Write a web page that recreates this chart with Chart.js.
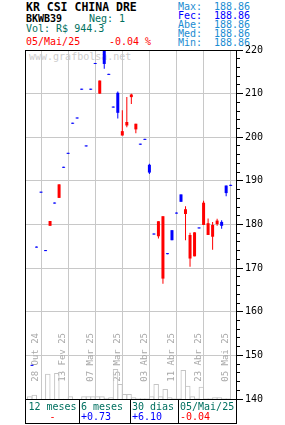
<!DOCTYPE html>
<html>
<head>
<meta charset="utf-8">
<script src="https://cdn.jsdelivr.net/npm/chart.js@4.4.0/dist/chart.umd.min.js"></script>
<style>
html, body { margin: 0; padding: 0; background: #fff; }
body { width: 285px; height: 425px; position: relative; overflow: hidden;
       font-family: "DejaVu Sans Mono", monospace; font-size: 10px; line-height: 10px; }
.t { position: absolute; white-space: pre; }
#chart { position: absolute; left: 0; top: 0; z-index: 1; display: block; }
#wm { z-index: 0; color: #cdcdcd; }
.teal { color: #007060; }
.red { color: #ff0000; }
.lb { color: #1a8cd2; }
.bl { color: #0000ff; }
#foot { position: absolute; left: 25px; top: 399px; width: 212px; height: 25px; box-sizing: border-box;
        border: 1px solid #000; z-index: 2; display: flex; }
#foot div { box-sizing: border-box; padding: 2px 0 0 1px; white-space: pre; }
#foot div + div { border-left: 1px solid #000; }
</style>
</head>
<body>
<div class="t" style="left:26px;top:0.7px;font-weight:bold;font-size:11.5px;line-height:12px">KR CSI CHINA DRE</div>
<div class="t" style="left:26px;top:14.2px;font-weight:bold">BKWB39</div>
<div class="t teal" style="left:89px;top:14.2px">Neg: 1</div>
<div class="t teal" style="left:26px;top:23.5px">Vol: R$ 944.3</div>
<div class="t red" style="left:26px;top:36.5px">05/Mai/25</div>
<div class="t red" style="left:109px;top:36.5px">-0.04 %</div>

<div class="t lb" style="left:178px;top:1.5px">Max:</div>
<div class="t bl" style="left:178px;top:10.8px">Fec:</div>
<div class="t lb" style="left:178px;top:19.8px">Abe:</div>
<div class="t lb" style="left:178px;top:28.9px">Med:</div>
<div class="t lb" style="left:178px;top:38.2px">Min:</div>
<div class="t lb" style="right:35px;top:1.5px">188.86</div>
<div class="t bl" style="right:35px;top:10.8px">188.86</div>
<div class="t lb" style="right:35px;top:19.8px">188.86</div>
<div class="t lb" style="right:35px;top:28.9px">188.86</div>
<div class="t lb" style="right:35px;top:38.2px">188.86</div>

<div class="t" id="wm" style="left:29px;top:51.5px">www.grafbolsa.net</div>

<canvas id="chart" width="285" height="425"></canvas>

<div id="foot">
  <div style="width:53px;text-align:center;padding-left:0"><span class="teal">12 meses</span>
<span class="red">-</span></div>
  <div style="width:51px"><span class="teal">6 meses</span>
<span class="bl">+0.73</span></div>
  <div style="width:48px"><span class="teal">30 dias</span>
<span class="bl">+6.10</span></div>
  <div style="width:58px"><span class="teal">05/Mai/25</span>
<span class="red">-0.04</span></div>
</div>

<script>
// eixo x: posicoes das datas marcadas (indice do pregao) e seus rotulos
const tickPos = [2, 8, 14, 20, 26, 32, 38, 44];
const tickLabels = ['28 Out 24', '13 Fev 25', '07 Mar 25', '25 Mar 25', '03 Abr 25', '11 Abr 25', '23 Abr 25', '05 Mai 25'];

// cotacoes por pregao
const opens  = [147.6, 174.7, 187.3, 173.9, 180.8, 184.8, 189.2, 193.0, 196.2, 203.1,
                204.3, 210.9, 197.9, 210.9, 216.8, 213.0, 216.8, 214.3, 206.8, 205.6,
                201.4, 203.5, 209.8, 203.1, 198.3, 199.4, 191.9, 177.7, 180.75, 181.9,
                173.2, 176.4, 182.5, 185.2, 183.5, 177.6, 178.2, 179.1, 185.0, 180.3,
                179.9, 180.9, 179.7, 187.2, 188.86];
const highs  = [147.6, 174.7, 187.3, 173.9, 180.8, 184.8, 189.2, 193.0, 196.2, 203.1,
                204.3, 210.9, 197.9, 210.9, 216.8, 213.0, 221.5, 214.3, 206.8, 210.5,
                206.2, 209.2, 210.0, 203.1, 198.3, 199.4, 193.9, 177.7, 180.75, 181.9,
                173.2, 178.7, 182.5, 186.9, 184.2, 178.1, 178.2, 179.1, 185.45, 181.4,
                180.6, 181.3, 181.0, 188.93, 188.86];
const lows   = [147.6, 174.7, 187.3, 173.9, 179.7, 184.8, 186.1, 193.0, 196.2, 203.1,
                204.3, 210.9, 197.9, 210.9, 216.8, 210.0, 215.7, 214.3, 206.8, 204.3,
                200.4, 202.3, 207.6, 200.9, 198.3, 199.4, 191.6, 177.7, 176.8, 166.4,
                173.2, 176.4, 182.5, 185.2, 176.4, 170.3, 172.7, 179.1, 179.9, 177.6,
                174.2, 179.7, 179.0, 186.5, 188.86];
const closes = [147.6, 174.7, 187.3, 173.9, 179.7, 184.8, 186.1, 193.0, 196.2, 203.1,
                204.3, 210.9, 197.9, 210.9, 216.8, 210.0, 220.6, 214.3, 206.8, 210.2,
                200.4, 202.7, 209.2, 201.8, 198.3, 199.4, 193.7, 177.7, 177.3, 167.6,
                173.2, 178.7, 182.5, 186.9, 182.4, 172.2, 172.7, 179.1, 179.9, 177.6,
                177.2, 180.1, 180.6, 188.93, 188.86];
// volume financeiro (R$)
const volumes = [3600, 5800, 400, 400, 34200, 400, 35100, 400, 400, 3600,
                 400, 400, 3600, 3600, 3600, 3600, 3600, 1400, 2300, 40500,
                 20300, 6800, 6800, 2300, 900, 900, 900, 3600, 20300, 3600,
                 13500, 2300, 900, 900, 39200, 18000, 3600, 900, 16600, 900,
                 900, 2300, 2300, 900, 944.3];

const UP = '#0000ff';
const DOWN = '#ff0000';
const GRID = '#c8c8c8';
const MONO = 'DejaVu Sans Mono';

const idx = closes.map((c, i) => i);
const candleColor = idx.map(i => closes[i] < opens[i] ? DOWN : UP);
const clipBox = { left: 0, top: -1, right: 0, bottom: 0 };

new Chart(document.getElementById('chart'), {
    type: 'bar',
    data: {
        datasets: [{
            label: 'corpo',
            data: idx.map(i => ({ x: i, y: [opens[i], closes[i]] })),
            backgroundColor: candleColor,
            barThickness: 3,
            minBarLength: 1,
            inflateAmount: 0,
            grouped: false,
            clip: clipBox,
            xAxisID: 'x',
            yAxisID: 'y'
        }, {
            label: 'sombra',
            data: idx.map(i => ({ x: i, y: [lows[i], highs[i]] })),
            backgroundColor: candleColor,
            barThickness: 1,
            minBarLength: 1,
            inflateAmount: 0,
            grouped: false,
            clip: clipBox,
            xAxisID: 'x',
            yAxisID: 'y'
        }, {
            label: 'volume',
            data: idx.map(i => ({ x: i, y: volumes[i] })),
            backgroundColor: 'rgba(0,0,0,0)',
            borderColor: '#c4c4c4',
            borderWidth: 1,
            barThickness: 5.5,
            inflateAmount: 0,
            grouped: false,
            xAxisID: 'xVol',
            yAxisID: 'yVol'
        }]
    },
    options: {
        responsive: false,
        animation: false,
        devicePixelRatio: 1,
        layout: { padding: { left: 25, top: 50, right: 0, bottom: 26 } },
        plugins: { legend: { display: false }, tooltip: { enabled: false } },
        scales: {
            x: {
                type: 'linear',
                position: { y: 140 },
                offset: false,
                min: -1.55,
                max: 45.18,
                afterBuildTicks: s => { s.ticks = tickPos.map(v => ({ value: v })); },
                ticks: {
                    autoSkip: false,
                    minRotation: 90,
                    maxRotation: 90,
                    padding: -66,
                    labelOffset: -5,
                    color: '#a8a8a8',
                    font: { family: MONO, size: 9 },
                    callback: (v, i) => tickLabels[i]
                },
                grid: { color: GRID, drawTicks: false, offset: false },
                border: { color: '#000' }
            },
            xVol: {
                type: 'linear',
                display: false,
                position: 'bottom',
                offset: false,
                grid: { offset: false },
                min: -1.05,
                max: 45.68
            },
            xTop: {
                type: 'linear',
                position: 'top',
                afterFit: s => { s.height = 0; },
                ticks: { display: false },
                grid: { drawOnChartArea: false, drawTicks: false },
                border: { color: '#000' }
            },
            yLeft: {
                type: 'linear',
                position: 'left',
                afterFit: s => { s.width = 0; },
                ticks: { display: false },
                grid: { drawOnChartArea: false, drawTicks: false },
                border: { color: '#000' }
            },
            yMinor: {
                type: 'linear',
                position: 'right',
                weight: -1,
                min: 140,
                max: 220,
                afterFit: s => { s.width = 0; },
                ticks: { display: false, stepSize: 2, maxTicksLimit: 100 },
                grid: { drawOnChartArea: false, tickLength: 4, tickColor: '#000' },
                border: { display: false }
            },
            y: {
                type: 'linear',
                position: 'right',
                weight: 1,
                min: 140,
                max: 220,
                afterFit: s => { s.width = 49; },
                ticks: { stepSize: 10, padding: 2, color: '#000', font: { family: MONO, size: 10 } },
                grid: {
                    color: c => (c.tick && (c.tick.value === 140 || c.tick.value === 220)) ? 'rgba(0,0,0,0)' : GRID,
                    tickLength: 7,
                    tickColor: '#000'
                },
                border: { color: '#000' }
            },
            yVol: {
                type: 'linear',
                display: false,
                position: 'left',
                min: 0,
                max: 471000
            }
        }
    }
});
</script>
</body>
</html>
